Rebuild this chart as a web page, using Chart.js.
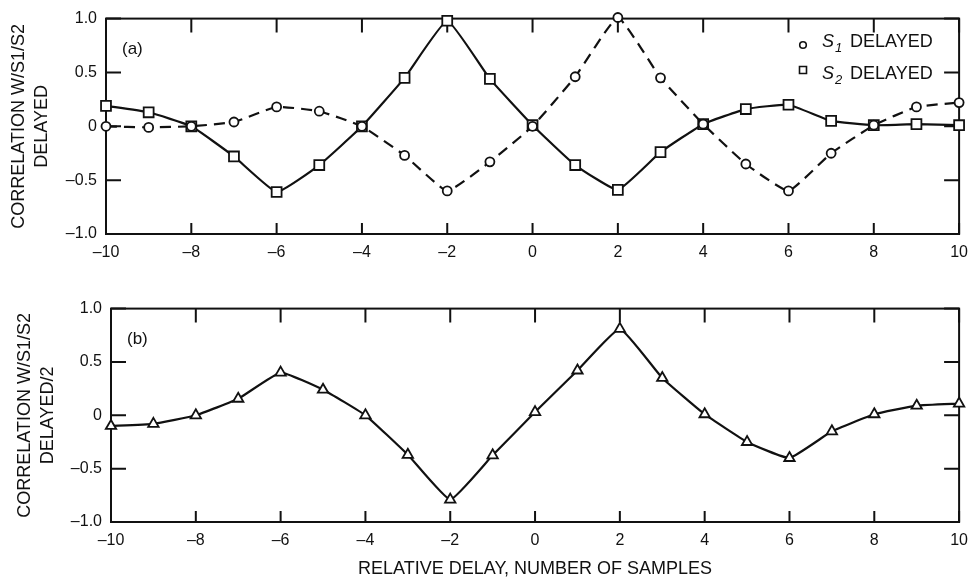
<!DOCTYPE html>
<html>
<head>
<meta charset="utf-8">
<title>Correlation vs relative delay</title>
<script src="https://cdn.jsdelivr.net/npm/chart.js@4.4.1/dist/chart.umd.min.js"></script>
<style>
  html, body { margin: 0; padding: 0; background: #fff; }
  .panel { position: absolute; left: 0; width: 977px; }
  #panelA { top: 0; height: 290px; }
  #panelB { top: 290px; height: 292px; }
</style>
</head>
<body>
<div class="panel" id="panelA"><canvas id="chartA"></canvas></div>
<div class="panel" id="panelB"><canvas id="chartB"></canvas></div>
<script>
const delays = [-10, -9, -8, -7, -6, -5, -4, -3, -2, -1, 0, 1, 2, 3, 4, 5, 6, 7, 8, 9, 10];
const s1Delayed = [0.0, -0.01, 0.0, 0.04, 0.18, 0.14, 0.0, -0.27, -0.6, -0.33, 0.0, 0.46, 1.01, 0.45, 0.02, -0.35, -0.6, -0.25, 0.01, 0.18, 0.22];
const s2Delayed = [0.19, 0.13, 0.0, -0.28, -0.61, -0.36, 0.0, 0.45, 0.98, 0.44, 0.01, -0.36, -0.59, -0.24, 0.02, 0.16, 0.2, 0.05, 0.01, 0.02, 0.01];
const halfDelayed = [-0.1, -0.08, 0.0, 0.155, 0.4, 0.24, 0.0, -0.37, -0.79, -0.375, 0.03, 0.42, 0.81, 0.35, 0.01, -0.25, -0.4, -0.15, 0.01, 0.09, 0.11];

const xTickValues = [-10, -8, -6, -4, -2, 0, 2, 4, 6, 8, 10];
const yTickValues = [-1, -0.5, 0, 0.5, 1];

const FONT = '"Liberation Sans", Arial, Helvetica, sans-serif';
const INK = '#111';

const dash = (s) => String(s).replace('-', '\u2013');
const toPoints = (values) => delays.map((d, i) => ({ x: d, y: values[i] }));

const framePlugin = {
  id: 'frame',
  beforeDatasetsDraw(chart) {
    const { ctx, chartArea: { left, right, top, bottom }, scales: { x, y } } = chart;
    ctx.save();
    ctx.strokeStyle = INK;
    ctx.lineWidth = 2;
    ctx.strokeRect(left, top, right - left, bottom - top);
    ctx.beginPath();
    xTickValues.forEach((v) => {
      const px = x.getPixelForValue(v);
      ctx.moveTo(px, bottom);
      ctx.lineTo(px, bottom - 11);
      ctx.moveTo(px, top);
      ctx.lineTo(px, top + 14);
    });
    yTickValues.forEach((v) => {
      const py = y.getPixelForValue(v);
      ctx.moveTo(left, py);
      ctx.lineTo(left + 15, py);
      ctx.moveTo(right, py);
      ctx.lineTo(right - 15, py);
    });
    ctx.stroke();
    ctx.restore();
  }
};

const panelLabel = (text) => ({
  id: 'panelLabel',
  afterDraw(chart) {
    const { ctx, chartArea: { left, top } } = chart;
    ctx.save();
    ctx.fillStyle = INK;
    ctx.font = `17px ${FONT}`;
    ctx.textBaseline = 'middle';
    ctx.fillText(text, left + 16, top + 31);
    ctx.restore();
  }
});

const legendPlugin = {
  id: 'subscriptLegend',
  afterDraw(chart) {
    const { ctx } = chart;
    const rows = [
      { sub: '1', y: 42, marker: 'circle', my: 45 },
      { sub: '2', y: 74, marker: 'rect', my: 70 }
    ];
    ctx.save();
    ctx.fillStyle = INK;
    ctx.strokeStyle = INK;
    ctx.lineWidth = 1.6;
    ctx.textBaseline = 'middle';
    rows.forEach((row) => {
      ctx.beginPath();
      if (row.marker === 'circle') {
        ctx.arc(803, row.my, 3.3, 0, Math.PI * 2);
      } else {
        ctx.rect(799.5, row.my - 3.5, 7, 7);
      }
      ctx.stroke();
      ctx.font = `italic 18px ${FONT}`;
      ctx.fillText('S', 822, row.y);
      ctx.font = `italic 13px ${FONT}`;
      ctx.fillText(row.sub, 835, row.y + 6);
      ctx.font = `18px ${FONT}`;
      ctx.fillText('DELAYED', 850, row.y);
    });
    ctx.restore();
  }
};

const lineStyle = {
  borderColor: INK,
  borderWidth: 2.2,
  tension: 0.12,
  pointBackgroundColor: '#fff',
  pointBorderColor: INK,
  pointBorderWidth: 1.8,
  clip: false
};

const buildOptions = (cfg) => ({
  responsive: true,
  maintainAspectRatio: false,
  animation: false,
  layout: { padding: { top: cfg.padTop, right: cfg.padRight, left: 0, bottom: 0 } },
  plugins: { legend: { display: false }, tooltip: { enabled: false } },
  scales: {
    x: {
      type: 'linear',
      min: -10,
      max: 10,
      grid: { display: false, drawTicks: false },
      border: { display: false },
      afterBuildTicks: (s) => { s.ticks = xTickValues.map((value) => ({ value })); },
      ticks: { padding: 9, color: INK, font: { family: FONT, size: 16 }, maxRotation: 0, callback: (v) => dash(v) },
      title: cfg.xTitle
        ? { display: true, text: cfg.xTitle, color: INK, font: { family: FONT, size: 18 }, padding: { top: 0, bottom: 2 } }
        : { display: false },
      afterFit: (s) => { s.height = cfg.xHeight; }
    },
    y: {
      type: 'linear',
      min: -1,
      max: 1,
      grid: { display: false, drawTicks: false },
      border: { display: false },
      afterBuildTicks: (s) => { s.ticks = yTickValues.map((value) => ({ value })); },
      ticks: { padding: 9, color: INK, font: { family: FONT, size: 16 }, callback: (v) => (v === 0 ? '0' : dash(v.toFixed(1))) },
      title: { display: true, text: cfg.yTitle, color: INK, font: { family: FONT, size: 18, lineHeight: 1.25 }, padding: { top: cfg.yTitlePad, bottom: 0 } },
      afterFit: (s) => { s.width = cfg.yWidth; }
    }
  }
});

new Chart(document.getElementById('chartA'), {
  type: 'line',
  data: {
    datasets: [
      { ...lineStyle, label: 'S1 DELAYED', data: toPoints(s1Delayed), borderDash: [11, 7], pointStyle: 'circle', pointRadius: 4.5 },
      { ...lineStyle, label: 'S2 DELAYED', data: toPoints(s2Delayed), pointStyle: 'rect', pointRadius: 7 }
    ]
  },
  options: buildOptions({
    padTop: 12, padRight: 9, xHeight: 56, yWidth: 106, yTitlePad: 8,
    yTitle: ['CORRELATION W/S1/S2', 'DELAYED']
  }),
  plugins: [framePlugin, panelLabel('(a)'), legendPlugin]
});

new Chart(document.getElementById('chartB'), {
  type: 'line',
  data: {
    datasets: [
      { ...lineStyle, label: 'S1/S2 DELAYED/2', data: toPoints(halfDelayed), pointStyle: 'triangle', pointRadius: 6 }
    ]
  },
  options: buildOptions({
    padTop: 10, padRight: 7, xHeight: 60, yWidth: 111, yTitlePad: 14,
    yTitle: ['CORRELATION W/S1/S2', 'DELAYED/2'],
    xTitle: 'RELATIVE DELAY, NUMBER OF SAMPLES'
  }),
  plugins: [framePlugin, panelLabel('(b)')]
});
</script>
</body>
</html>
